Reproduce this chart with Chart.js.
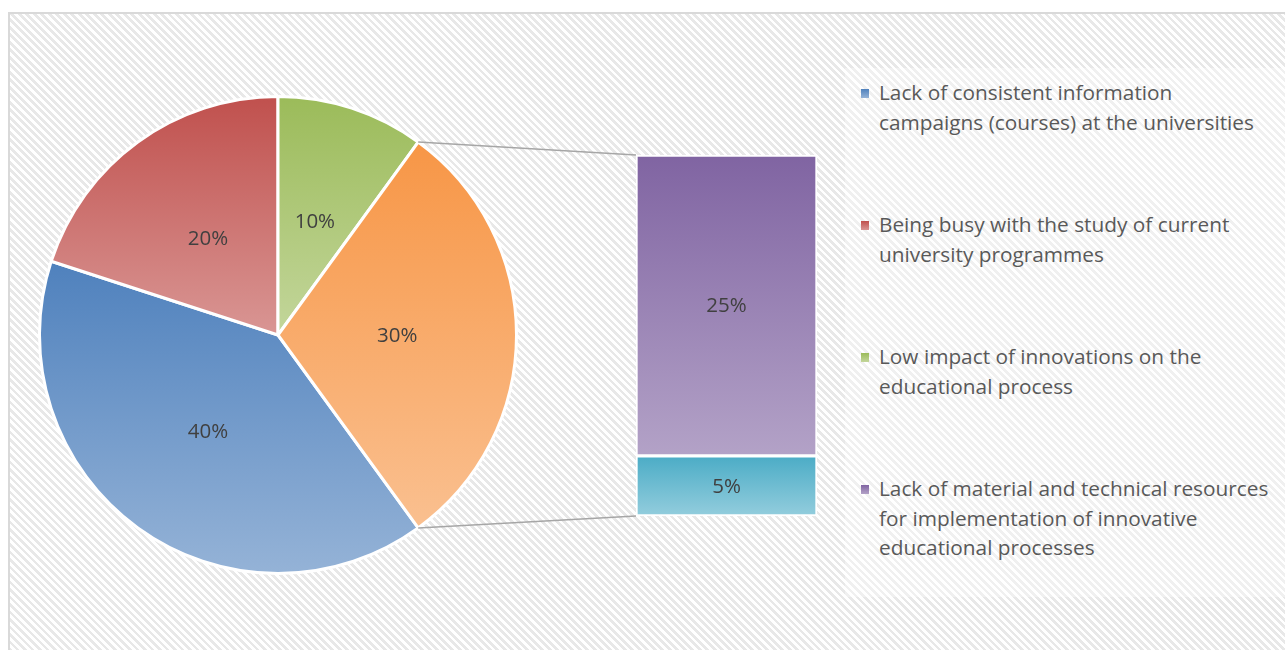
<!DOCTYPE html>
<html lang="en">
  <head>
    <meta charset="UTF-8" />
    <title>Barreiras à inovação</title>
    <script src="https://cdn.jsdelivr.net/npm/chart.js"></script>
    <style>
      body {
        margin: 0;
        width: 1285px;
        height: 650px;
        overflow: hidden;
        background: #ffffff;
        font-family: "Open Sans", sans-serif;
      }
      #quadro {
        position: absolute;
        left: 8px;
        top: 12px;
        width: 1300px;
        height: 660px;
        box-sizing: border-box;
        border: 2px solid #d9d9d9;
        background: repeating-linear-gradient(45deg, #ffffff 0px, #ffffff 2.6px, #e8e8e8 2.6px, #e8e8e8 5.3px);
      }
      #pizza { position: absolute; left: 38px; top: 95px; }
      #barra { position: absolute; left: 400px; top: 130px; }
      #legenda {
        position: absolute;
        left: 845px;
        top: 68px;
        width: 460px;
        height: 529px;
        background: rgba(255, 255, 255, 0.35);
      }
      .item {
        position: absolute;
        left: 34px;
        font-size: 20.8px;
        line-height: 29.5px;
        color: #595959;
        white-space: nowrap;
      }
      .marca {
        position: absolute;
        left: -18px;
        top: 11px;
        width: 8px;
        height: 9px;
      }
    </style>
  </head>
  <body>
    <div id="quadro"></div>
    <canvas id="pizza" width="480" height="480"></canvas>
    <canvas id="barra" width="430" height="410"></canvas>
    <div id="legenda"></div>

    <script>
      // dados
      const categories = [
        ["Lack of consistent information", "campaigns (courses) at the universities"],
        ["Being busy with the study of current", "university programmes"],
        ["Low impact of innovations on the", "educational process"],
        ["Lack of material and technical resources", "for implementation of innovative", "educational processes"],
        [""],
      ];
      const shares = [40, 20, 10, 25, 5];
      const pieCount = 3; // os dois ultimos vao para a barra

      // cores (topo, base) de cada categoria, e da fatia "outros"
      const cores = [
        ["#4f81bd", "#95b3d7"],
        ["#c0504d", "#d99694"],
        ["#9bbb59", "#c3d69b"],
        ["#8064a2", "#b3a2c7"],
        ["#4bacc6", "#93cddd"],
      ];
      const corOutros = ["#f79646", "#fac090"];
      const rotacao = 144;

      const pieValues = shares.slice(0, pieCount);
      pieValues.push(shares.slice(pieCount).reduce((a, b) => a + b, 0));
      const pieCores = cores.slice(0, pieCount).concat([corOutros]);
      const barValues = shares.slice(pieCount).reverse(); // de baixo pra cima
      const barCores = cores.slice(pieCount).reverse();
      const outrosTotal = pieValues[pieCount];

      // gradiente vertical em cada fatia, do topo ate a base da fatia
      function fatiaGradiente(context) {
        const chart = context.chart;
        const area = chart.chartArea;
        const par = pieCores[context.dataIndex];
        if (!area) return par[0];
        const cx = (area.left + area.right) / 2;
        const cy = (area.top + area.bottom) / 2;
        const r = Math.min(area.width, area.height) / 2;
        const vals = context.dataset.data;
        const total = vals.reduce((a, b) => a + b, 0);
        let a0 = rotacao;
        for (let k = 0; k < context.dataIndex; k++) a0 += (vals[k] / total) * 360;
        const a1 = a0 + (vals[context.dataIndex] / total) * 360;
        const yAng = (a) => cy - r * Math.cos((a * Math.PI) / 180);
        const ys = [cy, yAng(a0), yAng(a1)];
        for (let a = 0; a <= 720; a += 180) {
          if (a > a0 && a < a1) ys.push(yAng(a));
        }
        const g = chart.ctx.createLinearGradient(0, Math.min(...ys), 0, Math.max(...ys));
        g.addColorStop(0, par[0]);
        g.addColorStop(1, par[1]);
        return g;
      }

      function barraGradiente(context) {
        const chart = context.chart;
        const y = chart.scales.y;
        const par = barCores[context.datasetIndex];
        if (!y) return par[0];
        let base = 0;
        for (let k = 0; k < context.datasetIndex; k++) base += barValues[k];
        const topo = base + barValues[context.datasetIndex];
        const y0 = y.getPixelForValue(topo);
        const y1 = y.getPixelForValue(base);
        if (!isFinite(y0) || !isFinite(y1)) return par[0];
        const g = chart.ctx.createLinearGradient(0, y0, 0, y1);
        g.addColorStop(0, par[0]);
        g.addColorStop(1, par[1]);
        return g;
      }

      // rotulos de valor no meio de cada fatia / barra
      const rotulos = {
        id: "rotulos",
        afterDatasetsDraw(chart) {
          const ctx = chart.ctx;
          ctx.save();
          ctx.font = '20.5px "Open Sans", sans-serif';
          ctx.fillStyle = "#404040";
          ctx.textAlign = "center";
          ctx.textBaseline = "middle";
          chart.data.datasets.forEach((ds, i) => {
            chart.getDatasetMeta(i).data.forEach((el, j) => {
              const p = el.getCenterPoint();
              ctx.fillText(ds.data[j] + "%", p.x, p.y + 1);
            });
          });
          ctx.restore();
        },
      };

      const pieChart = new Chart(document.getElementById("pizza"), {
        type: "pie",
        data: {
          labels: categories.slice(0, pieCount).map((c) => c.join(" ")).concat(["Other"]),
          datasets: [
            {
              data: pieValues,
              backgroundColor: fatiaGradiente,
              borderColor: "#ffffff",
              borderWidth: 3,
            },
          ],
        },
        options: {
          responsive: false,
          animation: false,
          events: [],
          rotation: rotacao,
          plugins: { legend: { display: false }, tooltip: { enabled: false } },
        },
        plugins: [rotulos],
      });

      // linhas ligando a fatia "outros" a barra
      const conectores = {
        id: "conectores",
        beforeDatasetsDraw(chart) {
          const arco = pieChart.getDatasetMeta(0).data[pieCount];
          const rp = pieChart.canvas.getBoundingClientRect();
          const rb = chart.canvas.getBoundingClientRect();
          const dx = rp.left - rb.left;
          const dy = rp.top - rb.top;
          const R = arco.outerRadius;
          const ini = { x: arco.x + R * Math.cos(arco.startAngle) + dx, y: arco.y + R * Math.sin(arco.startAngle) + dy };
          const fim = { x: arco.x + R * Math.cos(arco.endAngle) + dx, y: arco.y + R * Math.sin(arco.endAngle) + dy };
          const metas = chart.data.datasets.map((d, i) => chart.getDatasetMeta(i).data[0]);
          const baixo = metas[0];
          const cima = metas[metas.length - 1];
          const xEsq = cima.x - cima.width / 2;
          const ctx = chart.ctx;
          ctx.save();
          ctx.strokeStyle = "#a6a6a6";
          ctx.lineWidth = 1.5;
          ctx.beginPath();
          ctx.moveTo(ini.x, ini.y);
          ctx.lineTo(xEsq, cima.y);
          ctx.moveTo(fim.x, fim.y);
          ctx.lineTo(xEsq, baixo.base);
          ctx.stroke();
          ctx.restore();
        },
      };

      new Chart(document.getElementById("barra"), {
        type: "bar",
        data: {
          labels: [""],
          datasets: barValues.map((v, i) => ({
            label: categories[shares.length - 1 - i].join(" "),
            data: [v],
            backgroundColor: barraGradiente,
            borderColor: "#ffffff",
            borderWidth: 2,
            borderSkipped: false,
            barPercentage: 1,
            categoryPercentage: 1,
          })),
        },
        options: {
          responsive: false,
          animation: false,
          events: [],
          layout: { padding: { left: 236, right: 13, top: 25, bottom: 24 } },
          scales: {
            x: { stacked: true, display: false },
            y: { stacked: true, display: false, min: 0, max: outrosTotal },
          },
          plugins: { legend: { display: false }, tooltip: { enabled: false } },
        },
        plugins: [conectores, rotulos],
      });

      // legenda em html
      const legenda = document.getElementById("legenda");
      categories.forEach((linhas, i) => {
        if (!linhas.join("")) return;
        const item = document.createElement("div");
        item.className = "item";
        item.style.top = 10 + i * 132 + "px";
        const marca = document.createElement("span");
        marca.className = "marca";
        marca.style.background = "linear-gradient(" + cores[i][0] + ", " + cores[i][1] + ")";
        item.appendChild(marca);
        linhas.forEach((t, k) => {
          if (k) item.appendChild(document.createElement("br"));
          item.appendChild(document.createTextNode(t));
        });
        legenda.appendChild(item);
      });
    </script>
  </body>
</html>
